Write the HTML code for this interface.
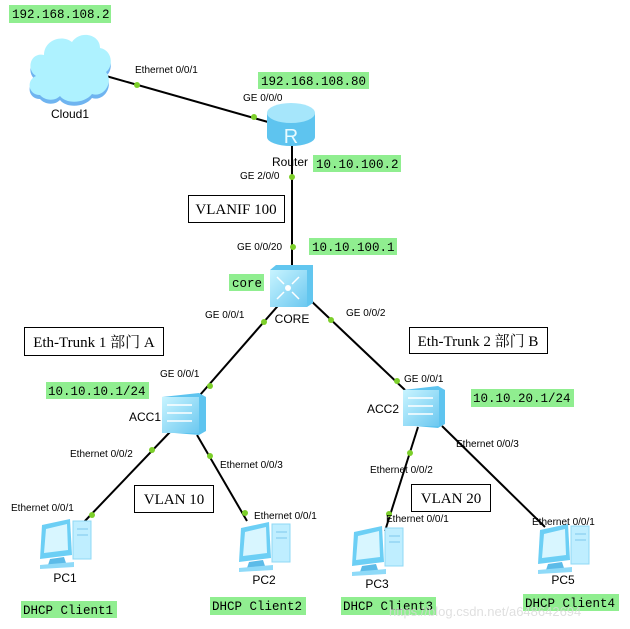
<!DOCTYPE html>
<html><head><meta charset="utf-8"><style>
html,body{margin:0;padding:0;background:#fff;}
svg{display:block;}
.l{font-family:"Liberation Sans",sans-serif;font-size:10px;fill:#000;}
.n{font-family:"Liberation Sans",sans-serif;font-size:12px;fill:#000;}
.m{font-family:"Liberation Mono",monospace;font-size:12.5px;fill:#000;}
.b{font-family:"Liberation Serif","Noto Serif CJK SC",serif;font-size:15px;fill:#000;}
.g{fill:#90ee90;}
.d{fill:#7ccf2a;}
</style></head><body>
<svg width="630" height="629" viewBox="0 0 630 629" xmlns="http://www.w3.org/2000/svg">
<defs>
<linearGradient id="bl" x1="0" y1="0" x2="0" y2="1"><stop offset="0" stop-color="#bff0ff"/><stop offset="1" stop-color="#5cc0ee"/></linearGradient>
<linearGradient id="sw" x1="0" y1="0" x2="1" y2="1"><stop offset="0" stop-color="#c8f4ff"/><stop offset="1" stop-color="#6cc8f0"/></linearGradient>
<g id="pc">
<rect x="35" y="4" width="18" height="38" fill="#bfeeff" stroke="#8fd8f5"/>
<line x1="39" y1="12" x2="50" y2="12" stroke="#7cc8ec"/><line x1="39" y1="18" x2="50" y2="18" stroke="#7cc8ec"/>
<polygon points="4,8 32,2 34,38 2,42" fill="#6ccff5"/>
<polygon points="8,12 29,7 30,33 6,36" fill="#d8f6ff"/>
<polygon points="12,42 26,40 28,46 10,48" fill="#5cbbe8"/>
<polygon points="2,48 36,45 36,50 2,52" fill="#8fdaf8"/>
</g>
</defs>
<!-- lines -->
<g stroke="#000" stroke-width="2" fill="none">
<line x1="106" y1="76" x2="268" y2="122"/>
<line x1="292" y1="146" x2="292" y2="266"/>
<line x1="283" y1="300" x2="200" y2="395"/>
<line x1="308" y1="298" x2="405" y2="390"/>
<line x1="170" y1="432" x2="83" y2="523"/>
<line x1="197" y1="435" x2="247" y2="521"/>
<line x1="418" y1="427" x2="385" y2="531"/>
<line x1="442" y1="426" x2="545" y2="527"/>
</g>
<!-- cloud -->
<g>
<path d="M40,95 C28,95 26,80 36,76 C26,70 30,52 44,55 C44,40 62,34 72,42 C80,30 100,34 100,48 C112,50 114,66 106,72 C114,82 104,98 92,94 C84,104 66,104 60,96 C54,102 44,100 40,95 Z" fill="#6fb4f0" transform="translate(0,4)"/>
<path d="M40,95 C28,95 26,80 36,76 C26,70 30,52 44,55 C44,40 62,34 72,42 C80,30 100,34 100,48 C112,50 114,66 106,72 C114,82 104,98 92,94 C84,104 66,104 60,96 C54,102 44,100 40,95 Z" fill="#aef2ff"/>
</g>
<!-- router -->
<g>
<rect x="267" y="113" width="48" height="24" fill="#5ec4ef"/>
<ellipse cx="291" cy="137" rx="24" ry="9" fill="#5ec4ef"/>
<ellipse cx="291" cy="113" rx="24" ry="10" fill="#a6e6fb"/>
<text x="291" y="143" font-family="Liberation Sans,sans-serif" font-size="20" fill="#e8fbff" text-anchor="middle">R</text>
</g>
<!-- core switch -->
<g>
<polygon points="270,270 276,265 313,265 313,303 307,307 270,307" fill="#62c6ef"/>
<rect x="270" y="270" width="37" height="37" fill="url(#sw)"/>
<circle cx="288" cy="288" r="3" fill="#fff"/>
<g stroke="#fff" stroke-width="1.5"><line x1="277" y1="277" x2="284" y2="284"/><line x1="299" y1="277" x2="292" y2="284"/><line x1="277" y1="299" x2="284" y2="292"/><line x1="299" y1="299" x2="292" y2="292"/></g>
</g>
<!-- ACC1 -->
<g>
<polygon points="162,397 199,393 206,397 206,431 199,435 162,432" fill="#5ec4ef"/>
<rect x="162" y="397" width="37" height="36" fill="url(#sw)"/>
<g stroke="#fff" stroke-width="1.5"><line x1="167" y1="405" x2="192" y2="405"/><line x1="167" y1="413" x2="192" y2="413"/><line x1="167" y1="421" x2="192" y2="421"/></g>
</g>
<!-- ACC2 -->
<g>
<polygon points="403,390 438,386 445,390 445,424 438,428 403,425" fill="#5ec4ef"/>
<rect x="403" y="390" width="36" height="36" fill="url(#sw)"/>
<g stroke="#fff" stroke-width="1.5"><line x1="408" y1="398" x2="433" y2="398"/><line x1="408" y1="406" x2="433" y2="406"/><line x1="408" y1="414" x2="433" y2="414"/></g>
</g>
<!-- PCs -->
<use href="#pc" transform="translate(38,517)"/>
<use href="#pc" transform="translate(237,520)"/>
<use href="#pc" transform="translate(350,524)"/>
<use href="#pc" transform="translate(536,522)"/>
<!-- dots -->
<g class="d">
<circle cx="137" cy="85" r="3"/><circle cx="254" cy="117" r="3"/>
<circle cx="292" cy="177" r="3"/><circle cx="293" cy="247" r="3"/>
<circle cx="264" cy="322" r="3"/><circle cx="331" cy="320" r="3"/>
<circle cx="210" cy="386" r="3"/><circle cx="397" cy="381" r="3"/>
<circle cx="152" cy="450" r="3"/><circle cx="92" cy="515" r="3"/>
<circle cx="210" cy="456" r="3"/><circle cx="245" cy="513" r="3"/>
<circle cx="410" cy="453" r="3"/><circle cx="389" cy="514" r="3"/>
</g>
<!-- green labels -->
<rect class="g" x="9" y="5" width="102" height="18"/><text class="m" x="12" y="18">192.168.108.2</text>
<rect class="g" x="258" y="72" width="111" height="17"/><text class="m" x="261" y="85">192.168.108.80</text>
<rect class="g" x="313" y="155" width="88" height="17"/><text class="m" x="316" y="168">10.10.100.2</text>
<rect class="g" x="309" y="238" width="88" height="17"/><text class="m" x="312" y="251">10.10.100.1</text>
<rect class="g" x="229" y="274" width="35" height="17"/><text class="m" x="232" y="287">core</text>
<rect class="g" x="46" y="382" width="103" height="17"/><text class="m" x="48" y="395">10.10.10.1/24</text>
<rect class="g" x="471" y="389" width="103" height="18"/><text class="m" x="473" y="402">10.10.20.1/24</text>
<rect class="g" x="21" y="601" width="96" height="17"/><text class="m" x="23" y="614">DHCP Client1</text>
<rect class="g" x="210" y="597" width="96" height="18"/><text class="m" x="212" y="610">DHCP Client2</text>
<rect class="g" x="341" y="597" width="95" height="18"/><text class="m" x="343" y="610">DHCP Client3</text>
<rect class="g" x="523" y="594" width="96" height="17"/><text class="m" x="525" y="607">DHCP Client4</text>
<!-- boxes -->
<g fill="#fff" stroke="#000" stroke-width="1">
<rect x="188.5" y="195.5" width="96" height="27"/>
<rect x="24.5" y="327.5" width="139" height="28"/>
<rect x="409.5" y="327.5" width="138" height="26"/>
<rect x="134.5" y="485.5" width="79" height="27"/>
<rect x="411.5" y="484.5" width="79" height="27"/>
</g>
<text class="b" x="236" y="214" text-anchor="middle">VLANIF 100</text>
<text class="b" x="94" y="347" text-anchor="middle">Eth-Trunk 1 部门 A</text>
<text class="b" x="478" y="346" text-anchor="middle">Eth-Trunk 2 部门 B</text>
<text class="b" x="174" y="504" text-anchor="middle">VLAN 10</text>
<text class="b" x="451" y="503" text-anchor="middle">VLAN 20</text>
<!-- small labels -->
<text class="l" x="135" y="73">Ethernet 0/0/1</text>
<text class="l" x="243" y="101">GE 0/0/0</text>
<text class="l" x="240" y="179">GE 2/0/0</text>
<text class="l" x="237" y="250">GE 0/0/20</text>
<text class="l" x="205" y="318">GE 0/0/1</text>
<text class="l" x="346" y="316">GE 0/0/2</text>
<text class="l" x="160" y="377">GE 0/0/1</text>
<text class="l" x="404" y="382">GE 0/0/1</text>
<text class="l" x="70" y="457">Ethernet 0/0/2</text>
<text class="l" x="11" y="511">Ethernet 0/0/1</text>
<text class="l" x="220" y="468">Ethernet 0/0/3</text>
<text class="l" x="254" y="519">Ethernet 0/0/1</text>
<text class="l" x="370" y="473">Ethernet 0/0/2</text>
<text class="l" x="386" y="522">Ethernet 0/0/1</text>
<text class="l" x="456" y="447">Ethernet 0/0/3</text>
<text class="l" x="532" y="525">Ethernet 0/0/1</text>
<!-- node names -->
<text class="n" x="70" y="118" text-anchor="middle">Cloud1</text>
<text class="n" x="290" y="166" text-anchor="middle">Router</text>
<text class="n" x="292" y="323" text-anchor="middle">CORE</text>
<text class="n" x="145" y="421" text-anchor="middle">ACC1</text>
<text class="n" x="383" y="413" text-anchor="middle">ACC2</text>
<text class="n" x="65" y="582" text-anchor="middle">PC1</text>
<text class="n" x="264" y="584" text-anchor="middle">PC2</text>
<text class="n" x="377" y="588" text-anchor="middle">PC3</text>
<text class="n" x="563" y="584" text-anchor="middle">PC5</text>
<text x="389" y="616" font-family="Liberation Sans,sans-serif" font-size="13" fill="#d8d8d8" opacity="0.8">https://blog.csdn.net/a648642694</text>
</svg>
</body></html>
